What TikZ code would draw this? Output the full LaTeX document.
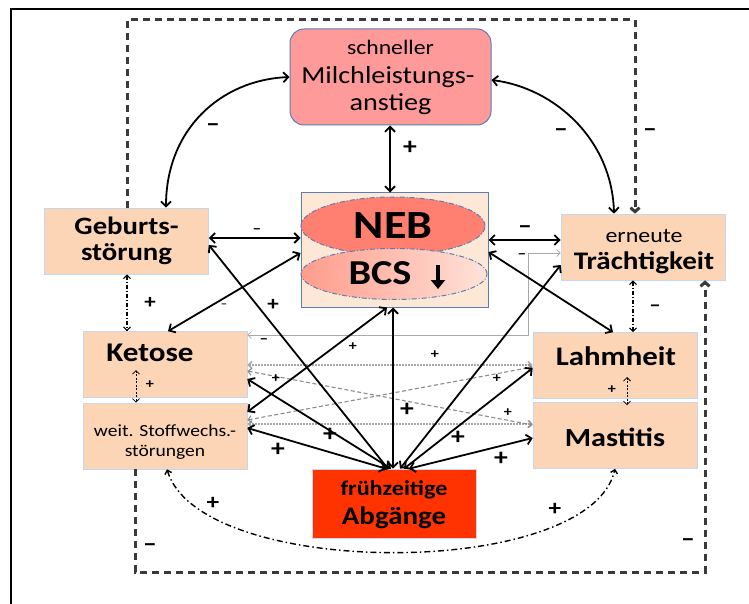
\documentclass[tikz,border=0pt]{standalone}
\usepackage{fontspec}
\setmainfont[FakeStretch=1.15]{Carlito}
\usetikzlibrary{arrows.meta,calc,shapes.geometric}
\definecolor{peach}{HTML}{FBD5B5}
\definecolor{boxline}{HTML}{C6D6EC}
\definecolor{milchfill}{HTML}{FF9A9A}
\definecolor{blueline}{HTML}{5A7EB4}
\definecolor{nebbg}{HTML}{FDE8D8}
\definecolor{nebell}{HTML}{FF8070}
\definecolor{bcsl}{HTML}{FF9C8C}
\definecolor{bcsr}{HTML}{FFE2D8}
\definecolor{abgfill}{HTML}{FF3300}
\definecolor{dashgray}{HTML}{3A3A3A}
\definecolor{lightg}{HTML}{A8A8A8}
\newcommand{\fsz}[2]{\fontsize{#1}{#2}\selectfont}
\begin{document}
\begin{tikzpicture}[x=1pt,y=-1pt,
  >={Straight Barb[length=5pt,width=10pt]},
  pbox/.style={draw=boxline, line width=0.6pt, fill=peach, minimum width=164pt, minimum height=66pt, inner sep=0pt},
  conn/.style={line width=1.8pt, black, <->},
  gconn/.style={line width=0.9pt, lightg, {Straight Barb[length=3.5pt,width=7pt]}-{Straight Barb[length=3.5pt,width=7pt]}},
  gdot/.style={gconn, dash pattern=on 1.5pt off 1.5pt, line width=1.6pt},
  gdash/.style={gconn, dash pattern=on 4pt off 2.5pt, line width=1.1pt, color=black!45},
  ddot/.style={line width=1.1pt, black, dash pattern=on 4pt off 2pt on 1pt off 2pt, {Straight Barb[length=3.5pt,width=7pt]}-{Straight Barb[length=3.5pt,width=7pt]}},
  loopline/.style={draw=dashgray, line width=3pt, dash pattern=on 7pt off 5pt, -{Straight Barb[length=4pt,width=9pt]}},
  bigl/.style={font=\bfseries\fsz{24}{24}, inner sep=0pt},
  smalll/.style={font=\bfseries\fsz{14}{14}, inner sep=0pt},
  minus/.style={font=\bfseries\fsz{24}{24}, inner sep=0pt},
  sminus/.style={font=\bfseries\fsz{15}{15}, inner sep=0pt},
  txt/.style={inner sep=0pt, anchor=center}
]
\useasboundingbox (0,0) rectangle (749,604);
\fill[white] (0,0) rectangle (749,604);
\draw[line width=1.5pt] (11,604) -- (11,9) -- (749,9);

% boxes
\node[draw=blueline, line width=1pt, fill=milchfill, rounded corners=14pt, minimum width=201pt, minimum height=96pt, inner sep=0pt] (milch) at (390.5,77) {};
\node[txt, font=\fsz{20.6}{22}] (milchT1) at (390.5,47) {schneller};
\node[txt, font=\fsz{24.5}{26}] (milchT2) at (388,77) {Milchleistungs-};
\node[txt, font=\fsz{24.5}{26}] (milchT3) at (390.5,104) {anstieg};

\node[draw=blueline, line width=1pt, fill=nebbg, minimum width=187pt, minimum height=114pt, inner sep=0pt] (nebbox) at (394.5,250) {};
\node[ellipse, fill=nebell, draw=blueline, line width=1pt, dash pattern=on 5pt off 2pt on 1pt off 2pt, minimum width=184pt, minimum height=58pt, inner sep=0pt, font=\bfseries\fsz{40}{40}] (neb) at (393,226) {NEB};
\node[ellipse, left color=bcsl, right color=bcsr, draw=blueline, line width=1pt, dash pattern=on 5pt off 2pt on 1pt off 2pt, minimum width=186pt, minimum height=51pt, inner sep=0pt] (bcs) at (394,274) {};
\node[txt, font=\bfseries\fsz{35}{36}] (bcsT) at (380,273) {BCS};
\coordinate (ar1) at (438,265);
\coordinate (ar2) at (438,289);
\draw[line width=4.5pt, -{Triangle[length=9pt,width=14pt]}] (ar1) -- (ar2);

\node[pbox, align=center, font=\bfseries\fsz{25}{26}] (geb) at (126.5,241) {Geburts-\\störung};
\node[pbox] (ketose) at (165,364.5) {};
\node[txt, font=\bfseries\fsz{27}{28}] (ketoseT) at (150,353) {Ketose};
\node[pbox] (weit) at (165,436) {};
\node[txt, font=\fsz{17}{18}] (weitT1) at (165,431) {weit. Stoffwechs.-};
\node[txt, font=\fsz{17}{18}] (weitT2) at (165,452) {störungen};
\node[pbox] (traecht) at (643,247) {};
\node[txt, font=\fsz{20.8}{22}] (traechtT1) at (644,236) {erneute};
\node[txt, font=\bfseries\fsz{25.3}{26}] (traechtT2) at (644,263) {Trächtigkeit};
\node[pbox] (lahm) at (615,365.5) {};
\node[txt, font=\bfseries\fsz{26.8}{28}] (lahmT) at (616,356) {Lahmheit};
\node[pbox] (mast) at (615,435.5) {};
\node[txt, font=\bfseries\fsz{26.2}{28}] (mastT) at (615,437) {Mastitis};
\node[draw=boxline, line width=0.6pt, fill=abgfill, minimum width=164pt, minimum height=69pt, inner sep=0pt] (abg) at (394,503.5) {};
\node[txt, font=\bfseries\fsz{21}{22}] (abgT1) at (394,490) {frühzeitige};
\node[txt, font=\bfseries\fsz{25.2}{26}] (abgT2) at (394,518) {Abgänge};

% outer dashed loops
\coordinate (o1) at (127,20);
\coordinate (o2) at (635,20);
\draw[loopline] (geb.north -| 127,0) -- (o1) -- (o2) -- (traecht.north -| 635,0);
\coordinate (o3) at (135,572);
\coordinate (o4) at (705,572);
\draw[loopline] (weit.south -| 135,0) -- (o3) -- (o4) -- (traecht.south -| 705,0);
\node[minus] (l1) at (650,133) {–};
\node[minus] (l2) at (150,548) {–};
\node[minus] (l3) at (688,543) {–};

% curved arrows to Milch
\draw[conn] (geb.north -| 166,0) .. controls (166,130) and (220,80) .. (milch.west |- 0,77);
\draw[conn] (milch.east |- 0,80) .. controls (555,88) and (612,140) .. (traecht.north -| 614,0);
\node[minus] (l4) at (213,128) {–};
\node[minus] (l5) at (561,133) {–};

% Milch - NEB
\draw[conn] (milch.south -| 390,0) -- (nebbox.north -| 390,0);
\node[bigl] (l6) at (410,148) {+};

% horizontals
\draw[conn] (geb.east |- 0,238) -- (nebbox.west |- 0,238);
\node[sminus] (l7) at (257,231) {–};
\draw[conn] (nebbox.east |- 0,240) -- (traecht.west |- 0,240);
\node[minus] (l8) at (525,230) {–};

% gray elbow Ketose - Traechtigkeit
\coordinate (g1) at (528,335);
\coordinate (g2) at (528,253);
\draw[gconn, line width=0.8pt] (ketose.east |- 0,335) -- (g1) -- (g2) -- (traecht.west |- 0,253);
\node[sminus] (l9) at (264,341) {–};
\node[sminus] (l10) at (522,256) {–};

% vertical dash-dot
\draw[ddot] (geb.south -| 127,0) -- (ketose.north -| 127,0);
\node[bigl, font=\bfseries\fsz{20}{20}] (l11) at (150,303) {+};
\draw[ddot] (traecht.south -| 633,0) -- (lahm.north -| 633,0);
\node[minus, font=\bfseries\fsz{20}{20}] (l12) at (655,308) {–};

% inner small arrows
\coordinate (k1) at (136,370);
\draw[ddot, line width=0.8pt, dash pattern=on 2pt off 1.5pt] (k1) -- (weit.north -| 136,0);
\node[smalll] (l13) at (150,385) {+};
\coordinate (m1) at (627,377);
\draw[ddot, line width=0.8pt, dash pattern=on 2pt off 1.5pt] (m1) -- ($(mast.north -| 627,0)+(0,3)$);
\node[smalll] (l14) at (612,390) {+};

% gray lines between left and right
\draw[gdot] (ketose.east |- 0,365) -- (lahm.west |- 0,365);
\draw[gdot] (weit.east |- 0,424) -- (mast.west |- 0,424);
\draw[gdash] (ketose.east |- 0,371) -- (mast.west |- 0,425);
\draw[gdash] (weit.east |- 0,420) -- (lahm.west |- 0,367);

% solid arrows
\draw[conn] (geb.east |- 0,245) -- (abg.north -| 388,0);
\node[bigl, font=\bfseries\fsz{20}{20}] (l15) at (273,305) {+};
\draw[conn] (nebbox.west |- 0,253) -- (ketose.north -| 168,0);
\node[sminus, font=\bfseries\fsz{11}{11}] (l16) at (224,306) {–};
\draw[conn] (nebbox.east |- 0,252) -- (lahm.north -| 613,0);
\draw[conn] (traecht.west |- 0,265) -- (abg.north -| 400,0);
\draw[conn] (nebbox.south -| 393,0) -- (abg.north -| 393,0);
\node[bigl] (l17) at (407,410) {+};
\draw[conn] (nebbox.south -| 387,0) -- (weit.east |- 0,412);
\draw[conn] (ketose.east |- 0,379) -- (abg.north -| 391,0);
\draw[conn] (weit.east |- 0,428) -- (abg.north -| 386,0);
\draw[conn] (lahm.west |- 0,368) -- (abg.north -| 404,0);
\draw[conn] (mast.west |- 0,438) -- (abg.north -| 409,0);
\node[bigl] (l18) at (330,435) {+};
\node[bigl] (l19) at (278,450) {+};
\node[bigl] (l20) at (458,438) {+};
\node[bigl] (l21) at (501,459) {+};
\node[smalll] (l22) at (353,347) {+};
\node[smalll] (l23) at (435,355) {+};
\node[smalll] (l24) at (276,379) {+};
\node[smalll] (l25) at (497,379) {+};
\node[smalll] (l26) at (508,413) {+};

% bottom dash-dot curve
\draw[ddot, line width=1.4pt, dash pattern=on 6pt off 3pt on 1.5pt off 3pt] (weit.south -| 167,0) .. controls (200,580) and (590,580) .. (mast.south -| 615,0);
\node[bigl, font=\bfseries\fsz{22}{22}] (l27) at (213,503) {+};
\node[bigl, font=\bfseries\fsz{22}{22}] (l28) at (555,509) {+};
\end{tikzpicture}
\end{document}
